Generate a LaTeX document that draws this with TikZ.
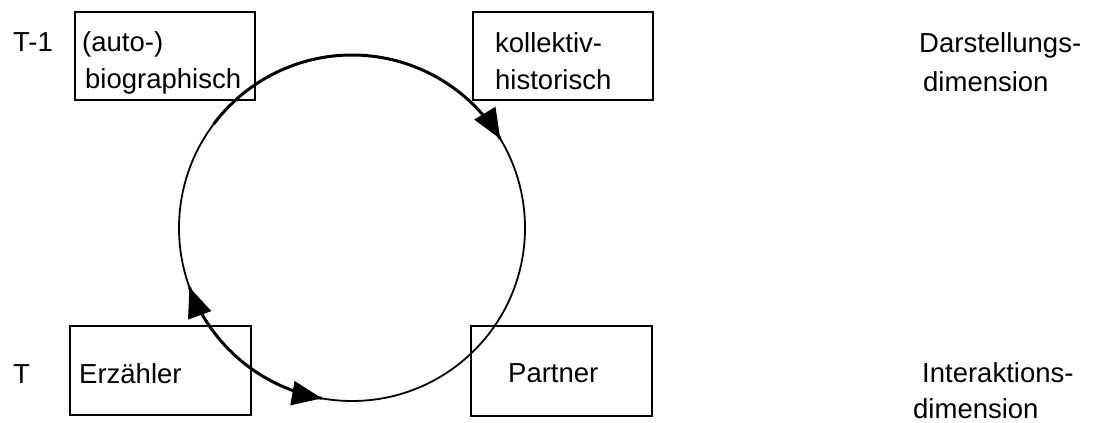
\documentclass[tikz,border=0pt]{standalone}
\usepackage{fontspec}
\setmainfont{Liberation Sans}
\usetikzlibrary{arrows.meta,calc,decorations.markings}
\tikzset{
  lbl/.style={anchor=base west,inner sep=0pt,font=\fontsize{27.5}{33}\selectfont},
  box/.style={draw,line width=1.5pt,inner sep=0pt},
  ring/.style={line width=1.8pt},
  flow/.style={line width=3pt},
  endhead/.style={postaction={decorate,decoration={markings,
    mark=at position 1 with {\arrow{Triangle[length=30pt,width=24pt]}}}}},
  starthead/.style={postaction={decorate,decoration={markings,
    mark=at position 0 with {\arrowreversed{Triangle[length=30pt,width=24pt]}}}}}
}
\begin{document}
\begin{tikzpicture}[x=1pt,y=1pt]
\useasboundingbox (0,0) rectangle (1093,423);
% boxes
\node[box,minimum width=180pt,minimum height=88pt] (bio) at (165,367) {};
\node[box,minimum width=180pt,minimum height=88pt] (kol) at (563,367) {};
\node[box,minimum width=181pt,minimum height=89pt] (erz) at (160.5,52.5) {};
\node[box,minimum width=181pt,minimum height=90pt] (par) at (561.5,52) {};
% circle
\coordinate (c) at (352,195);
\draw[ring] (c) circle[radius=173];
\draw[flow,endhead] ($(c)+(143:173)$) arc[start angle=143,end angle=31,radius=173];
\draw[flow,endhead,starthead] ($(c)+(200:173)$) arc[start angle=200,end angle=260,radius=173];
% texts
\node[lbl] (t1) at (13,371) {T-1};
\node[lbl] (a1) at (82,371) {(auto-)};
\node[lbl] (a2) at (85,334) {biographisch};
\node[lbl] (k1) at (495,370) {kollektiv-};
\node[lbl] (k2) at (495,333) {historisch};
\node[lbl] (d1) at (919,370) {Darstellungs-};
\node[lbl] (d2) at (923,331) {dimension};
\node[lbl] (t0) at (13,39) {T};
\node[lbl] (e1) at (79,39) {Erzähler};
\node[lbl] (p1) at (508,40) {Partner};
\node[lbl] (i1) at (922,40) {Interaktions-};
\node[lbl] (i2) at (913,4) {dimension};
\end{tikzpicture}
\end{document}
